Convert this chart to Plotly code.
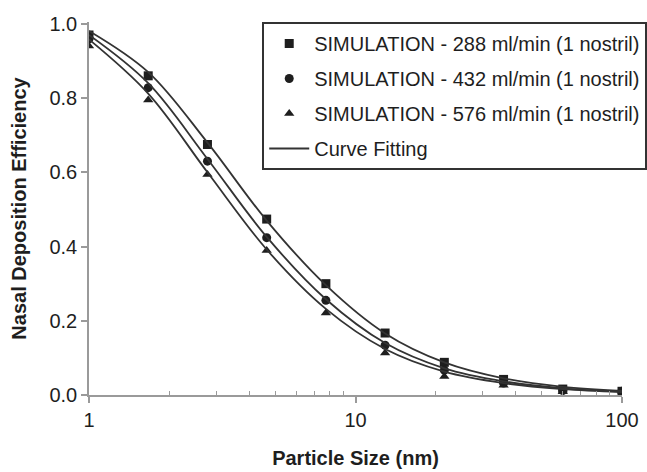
import plotly.graph_objects as go

# Data
particle_size = [1.0, 1.668, 2.783, 4.642, 7.743, 12.915, 21.544, 35.938, 59.948, 100.0]
sim_288 = [0.970, 0.860, 0.675, 0.474, 0.300, 0.167, 0.088, 0.042, 0.016, 0.010]
sim_432 = [0.960, 0.828, 0.630, 0.424, 0.255, 0.134, 0.067, 0.032, 0.012, 0.010]
sim_576 = [0.940, 0.795, 0.594, 0.389, 0.221, 0.113, 0.050, 0.026, 0.009, 0.010]
fit_288 = [0.981, 0.870, 0.680, 0.470, 0.296, 0.166, 0.088, 0.045, 0.022, 0.011]
fit_432 = [0.970, 0.840, 0.636, 0.426, 0.258, 0.140, 0.072, 0.037, 0.018, 0.009]
fit_576 = [0.958, 0.812, 0.600, 0.392, 0.232, 0.124, 0.063, 0.032, 0.016, 0.008]
labels = ["SIMULATION - 288 ml/min (1 nostril)",
          "SIMULATION - 432 ml/min (1 nostril)",
          "SIMULATION - 576 ml/min (1 nostril)"]

FONT = "Arial, 'Liberation Sans', Helvetica, sans-serif"
INK = "#1e1e1e"
LINE = "#333333"

fig = go.Figure()
for i, (ys, sym) in enumerate(zip([sim_288, sim_432, sim_576], ["square", "circle", "triangle-up"])):
    fig.add_trace(go.Scatter(
        x=particle_size, y=ys, mode="markers", name=labels[i],
        marker=dict(symbol=sym, size=9, color=INK, line=dict(width=0)),
        legendgroup=f"g{i}"))

for j, ys in enumerate([fit_288, fit_432, fit_576]):
    fig.add_trace(go.Scatter(
        x=particle_size, y=ys, mode="lines", name="Curve Fitting",
        line=dict(color=LINE, width=1.8, shape="spline", smoothing=1.0),
        showlegend=(j == 0), legendgroup="g3"))

fig.update_layout(
    width=647, height=472,
    margin=dict(l=89, r=25, t=22, b=77, autoexpand=False),
    paper_bgcolor="white", plot_bgcolor="white",
    font=dict(family=FONT, color=INK),
    showlegend=True,
    legend=dict(
        x=0.325, y=1.0, xanchor="left", yanchor="top",
        bgcolor="white", bordercolor="#333333", borderwidth=2,
        font=dict(size=20, family=FONT, color=INK),
        traceorder="grouped", tracegroupgap=6,
        itemwidth=40,
        itemsizing="trace"),
    xaxis=dict(
        type="log", range=[0, 2], automargin=False,
        showgrid=False, zeroline=False,
        showline=True, linecolor="#9a9a9a", linewidth=1.5,
        ticks="outside", ticklen=6, tickcolor="#9a9a9a", tickwidth=1.5,
        tickvals=[1, 10, 100], ticktext=["1", "10", "100"],
        tickfont=dict(size=20, color=INK),
        minor=dict(ticks="inside", ticklen=4, tickcolor="#9a9a9a", tickwidth=1.2,
                   tickvals=[2, 3, 4, 5, 6, 7, 8, 9, 20, 30, 40, 50, 60, 70, 80, 90]),
        title=dict(text="<b>Particle Size (nm)</b>", font=dict(size=20, color=INK), standoff=21),
    ),
    yaxis=dict(
        range=[0, 1.005], automargin=False,
        showgrid=False, zeroline=False,
        showline=True, linecolor="#9a9a9a", linewidth=1.5,
        ticks="outside", ticklen=6, tickcolor="#9a9a9a", tickwidth=1.5,
        tickvals=[0, 0.2, 0.4, 0.6, 0.8, 1.0], ticktext=["0.0", "0.2", "0.4", "0.6", "0.8", "1.0"],
        tickfont=dict(size=20, color=INK),
        title=dict(text="<b>Nasal Deposition Efficiency</b>", font=dict(size=20, color=INK), standoff=17),
    ),
)

fig.write_html("out.html")
